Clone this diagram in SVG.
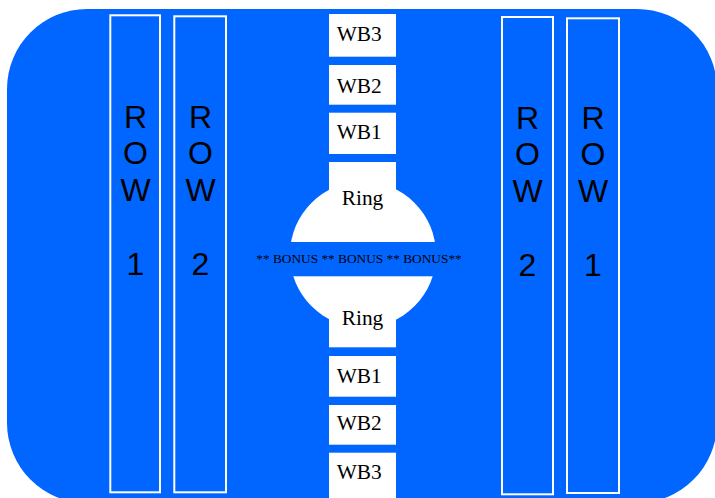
<svg xmlns="http://www.w3.org/2000/svg" width="715" height="498" viewBox="0 0 715 498">
<style>
.bg{fill:#0066ff}
.row{fill:#0066ff;stroke:#ffffff;stroke-width:2}
.rowt{font-family:"Liberation Sans",Arial,sans-serif;font-size:32px;fill:#000;text-anchor:middle}
.box{fill:#ffffff}
.wb{font-family:"Liberation Serif","Times New Roman",serif;font-size:21.33px;fill:#000}
.ring{font-family:"Liberation Serif","Times New Roman",serif;font-size:21.33px;fill:#000;text-anchor:middle}
.bonus{font-family:"Liberation Serif","Times New Roman",serif;font-size:13.33px;fill:#000;text-anchor:middle}
</style>
<rect id="field" class="bg" x="7" y="9" width="710" height="494" rx="80" ry="80"/>
<g id="row1-left">
<rect class="row" x="110.3" y="15.3" width="49.7" height="477"/>
<text class="rowt"><tspan x="135.5" y="127.7">R</tspan><tspan x="135.5" y="164.4">O</tspan><tspan x="135.5" y="201.1">W</tspan><tspan x="135.5" y="274.5">1</tspan></text>
</g>
<g id="row2-left">
<rect class="row" x="174.3" y="16.3" width="51.7" height="476"/>
<text class="rowt"><tspan x="200.5" y="127.7">R</tspan><tspan x="200.5" y="164.4">O</tspan><tspan x="200.5" y="201.1">W</tspan><tspan x="200.5" y="274.5">2</tspan></text>
</g>
<g id="row2-right">
<rect class="row" x="502" y="17" width="51" height="477.3"/>
<text class="rowt"><tspan x="527.5" y="128.7">R</tspan><tspan x="527.5" y="165.4">O</tspan><tspan x="527.5" y="202.1">W</tspan><tspan x="527.5" y="276">2</tspan></text>
</g>
<g id="row1-right">
<rect class="row" x="567" y="18.3" width="52" height="474.7"/>
<text class="rowt"><tspan x="593" y="128.7">R</tspan><tspan x="593" y="165.4">O</tspan><tspan x="593" y="202.1">W</tspan><tspan x="593" y="276">1</tspan></text>
</g>
<g id="wb3-top">
<rect class="box" x="329" y="14" width="67" height="42.7"/>
<text class="wb" x="336.7" y="40.7">WB3</text>
</g>
<g id="wb2-top">
<rect class="box" x="329" y="65" width="67" height="39.7"/>
<text class="wb" x="336.7" y="92.7">WB2</text>
</g>
<g id="wb1-top">
<rect class="box" x="329" y="112.7" width="67" height="41.3"/>
<text class="wb" x="336.7" y="139.3">WB1</text>
</g>
<g id="ring">
<rect class="box" x="329" y="162" width="67" height="185.3"/>
<circle class="box" cx="363" cy="254.5" r="73"/>
<rect class="bg" x="285" y="242" width="156" height="34.3"/>
<text class="ring" x="362.5" y="205">Ring</text>
<text class="bonus" x="359" y="262.7">** BONUS ** BONUS ** BONUS**</text>
<text class="ring" x="362.5" y="325">Ring</text>
</g>
<g id="wb1-bottom">
<rect class="box" x="329" y="356" width="67" height="40.7"/>
<text class="wb" x="336.7" y="382.7">WB1</text>
</g>
<g id="wb2-bottom">
<rect class="box" x="329" y="405" width="67" height="39.7"/>
<text class="wb" x="336.7" y="430">WB2</text>
</g>
<g id="wb3-bottom">
<rect class="box" x="329" y="452.7" width="67" height="50"/>
<text class="wb" x="336.7" y="479.3">WB3</text>
</g>
<g id="connectors"/>
</svg>
